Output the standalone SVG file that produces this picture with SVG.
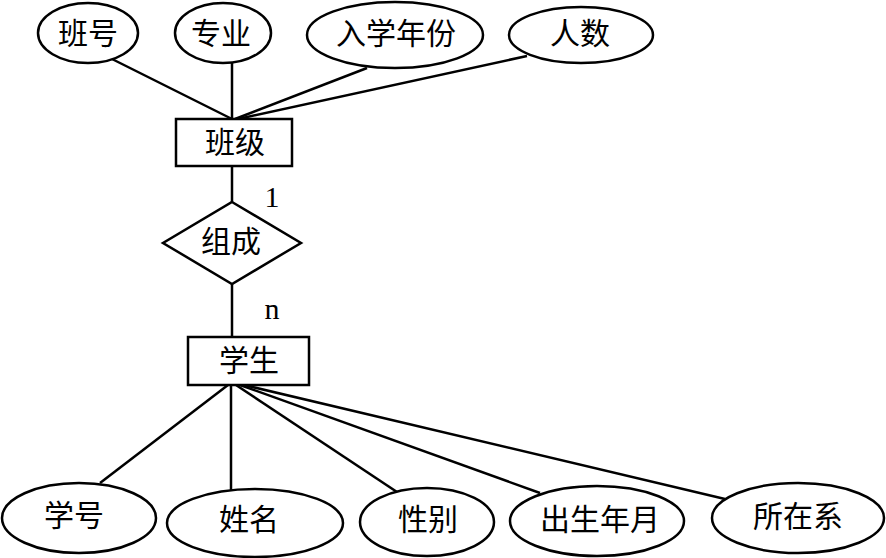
<svg xmlns="http://www.w3.org/2000/svg" width="886" height="558" viewBox="0 0 886 558">
<style>
.s{fill:#fff;stroke:#000;stroke-width:2.5}
.l{stroke:#000;stroke-width:2.5;fill:none}
text{font-family:"Liberation Serif","Noto Sans CJK SC",serif;font-size:30px;fill:#000;text-anchor:middle;dominant-baseline:central}
.m{font-size:30px}
</style>
<rect width="886" height="558" fill="#fff"/>
<g id="connectors">
<line class="l" x1="110" y1="58" x2="232" y2="119"/>
<line class="l" x1="232" y1="63" x2="232" y2="119"/>
<line class="l" x1="367" y1="68" x2="235" y2="119"/>
<line class="l" x1="527" y1="56" x2="238" y2="119"/>
<line class="l" x1="232" y1="166" x2="232" y2="202"/>
<line class="l" x1="232" y1="284" x2="232" y2="337"/>
<line class="l" x1="228" y1="385" x2="100" y2="483"/>
<line class="l" x1="231" y1="385" x2="231" y2="490"/>
<line class="l" x1="236" y1="385" x2="397" y2="492"/>
<line class="l" x1="240" y1="385" x2="540" y2="493"/>
<line class="l" x1="244" y1="385" x2="725" y2="499"/>
</g>
<g id="attr-banhao"><ellipse class="s" cx="88" cy="33" rx="50" ry="30"/><text x="88" y="33">班号</text></g>
<g id="attr-zhuanye"><ellipse class="s" cx="223" cy="33" rx="48" ry="30"/><text x="221" y="33">专业</text></g>
<g id="attr-ruxue"><ellipse class="s" cx="395" cy="35" rx="88" ry="33"/><text x="396" y="33">入学年份</text></g>
<g id="attr-renshu"><ellipse class="s" cx="581" cy="35" rx="72" ry="28"/><text x="580" y="33">人数</text></g>
<g id="entity-banji"><rect class="s" x="176" y="119" width="116" height="47"/><text x="235" y="142">班级</text></g>
<g id="rel-zucheng"><polygon class="s" points="232,202 301,243 232,284 163,243"/><text x="231" y="241">组成</text></g>
<text class="m" x="272" y="196">1</text>
<text class="m" x="272" y="308">n</text>
<g id="entity-xuesheng"><rect class="s" x="188" y="337" width="121" height="48"/><text x="249" y="360">学生</text></g>
<g id="attr-xuehao"><ellipse class="s" cx="79" cy="518" rx="77" ry="35"/><text x="74" y="515">学号</text></g>
<g id="attr-xingming"><ellipse class="s" cx="255" cy="523" rx="88" ry="34"/><text x="249" y="519">姓名</text></g>
<g id="attr-xingbie"><ellipse class="s" cx="427" cy="522" rx="67" ry="34"/><text x="428" y="519">性别</text></g>
<g id="attr-chusheng"><ellipse class="s" cx="597" cy="521" rx="87" ry="35"/><text x="600" y="519">出生年月</text></g>
<g id="attr-suozaixi"><ellipse class="s" cx="798" cy="518" rx="86" ry="35"/><text x="798" y="516">所在系</text></g>
</svg>
